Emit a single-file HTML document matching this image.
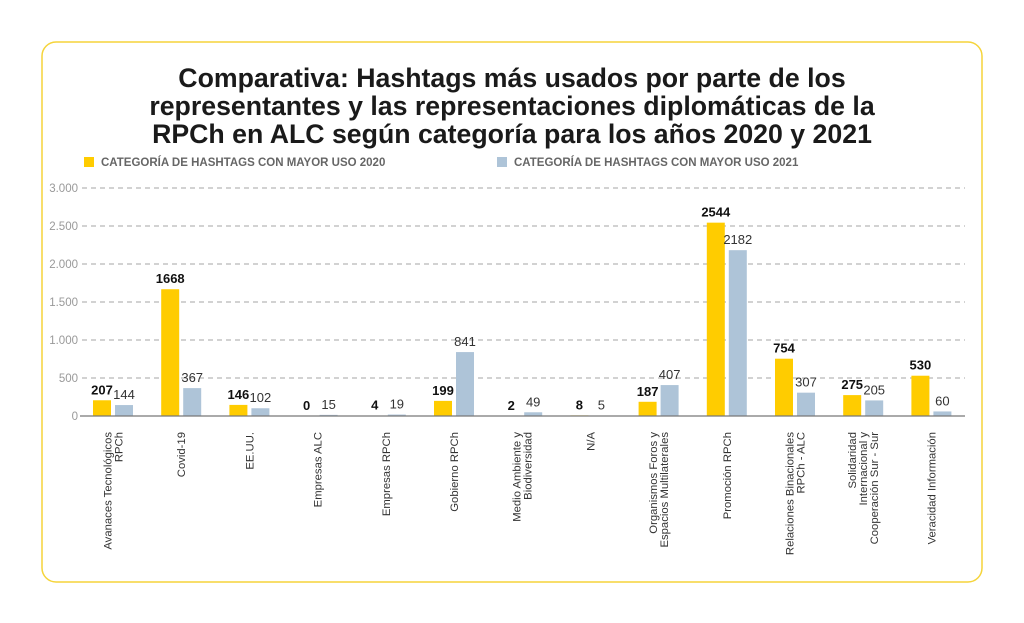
<!DOCTYPE html>
<html><head><meta charset="utf-8"><style>
html,body{margin:0;padding:0;background:#fff;width:1024px;height:623px;overflow:hidden}
svg{display:block;font-family:"Liberation Sans",sans-serif}
</style></head><body>
<svg id="s" width="1024" height="623" viewBox="0 0 1024 623">
<rect x="42" y="42" width="940" height="540" rx="14" fill="#fff" stroke="#f5d43a" stroke-width="1.5"/>
<g font-weight="bold" font-size="26.7" fill="#1a1a1a" text-anchor="middle">
<text x="512" y="87">Comparativa: Hashtags más usados por parte de los</text>
<text x="512" y="115">representantes y las representaciones diplomáticas de la</text>
<text x="512" y="143">RPCh en ALC según categoría para los años 2020 y 2021</text>
</g>
<rect x="84" y="157" width="10" height="10" fill="#ffcc00"/>
<text x="101" y="166" font-size="11.5" font-weight="bold" fill="#666">CATEGORÍA DE HASHTAGS CON MAYOR USO 2020</text>
<rect x="497" y="157" width="10" height="10" fill="#aec4d8"/>
<text x="514" y="166" font-size="11.5" font-weight="bold" fill="#666">CATEGORÍA DE HASHTAGS CON MAYOR USO 2021</text>
<g id="g"></g>
</svg>
<script>
var g=document.getElementById('g'),h='';
var y0=416,k=228/3000;
var ticks=['0','500','1.000','1.500','2.000','2.500','3.000'];
for(var i=0;i<7;i++){var y=y0-i*38;
h+='<text x="78" y="'+(y+4)+'" font-size="11.5" fill="#999" text-anchor="end">'+ticks[i]+'</text>';
if(i>0)h+='<line x1="82" x2="965" y1="'+y+'" y2="'+y+'" stroke="#888" stroke-width="0.8" stroke-dasharray="5,4"/>';}
var d=[[207,144,['Avanaces Tecnológicos','RPCh']],[1668,367,['Covid-19']],[146,102,['EE.UU.']],[0,15,['Empresas ALC']],[4,19,['Empresas RPCh']],[199,841,['Gobierno RPCh']],[2,49,['Medio Ambiente y','Biodiversidad']],[8,5,['N/A']],[187,407,['Organismos Foros y','Espacios Multilaterales']],[2544,2182,['Promoción RPCh']],[754,307,['Relaciones Binacionales','RPCh - ALC']],[275,205,['Solidaridad','Internacional y','Cooperación Sur - Sur']],[530,60,['Veracidad Información']]];
for(var i=0;i<13;i++){var x=93+68.2*i,a=d[i][0],b=d[i][1];
var ha=a*k,hb=b*k;
h+='<rect x="'+x+'" y="'+(y0-ha)+'" width="18" height="'+ha+'" fill="#ffcc00"/>';
h+='<rect x="'+(x+22)+'" y="'+(y0-hb)+'" width="18" height="'+hb+'" fill="#aec4d8"/>';
h+='<text x="'+(x+9)+'" y="'+(y0-ha-6)+'" font-size="13" font-weight="bold" fill="#111" text-anchor="middle">'+a+'</text>';
h+='<text x="'+(x+31)+'" y="'+(y0-hb-6)+'" font-size="13" fill="#333" text-anchor="middle">'+b+'</text>';
var L=d[i][2],n=L.length,cx=x+20;
for(var j=0;j<n;j++){var bx=cx+4+(j-(n-1)/2)*11;
h+='<text transform="translate('+bx+',432) rotate(-90)" font-size="11.3" fill="#333" text-anchor="end">'+L[j]+'</text>';}
}
h+='<line x1="80" x2="965" y1="416" y2="416" stroke="#777" stroke-width="1.2"/>';
g.innerHTML=h;
</script>
</body></html>
